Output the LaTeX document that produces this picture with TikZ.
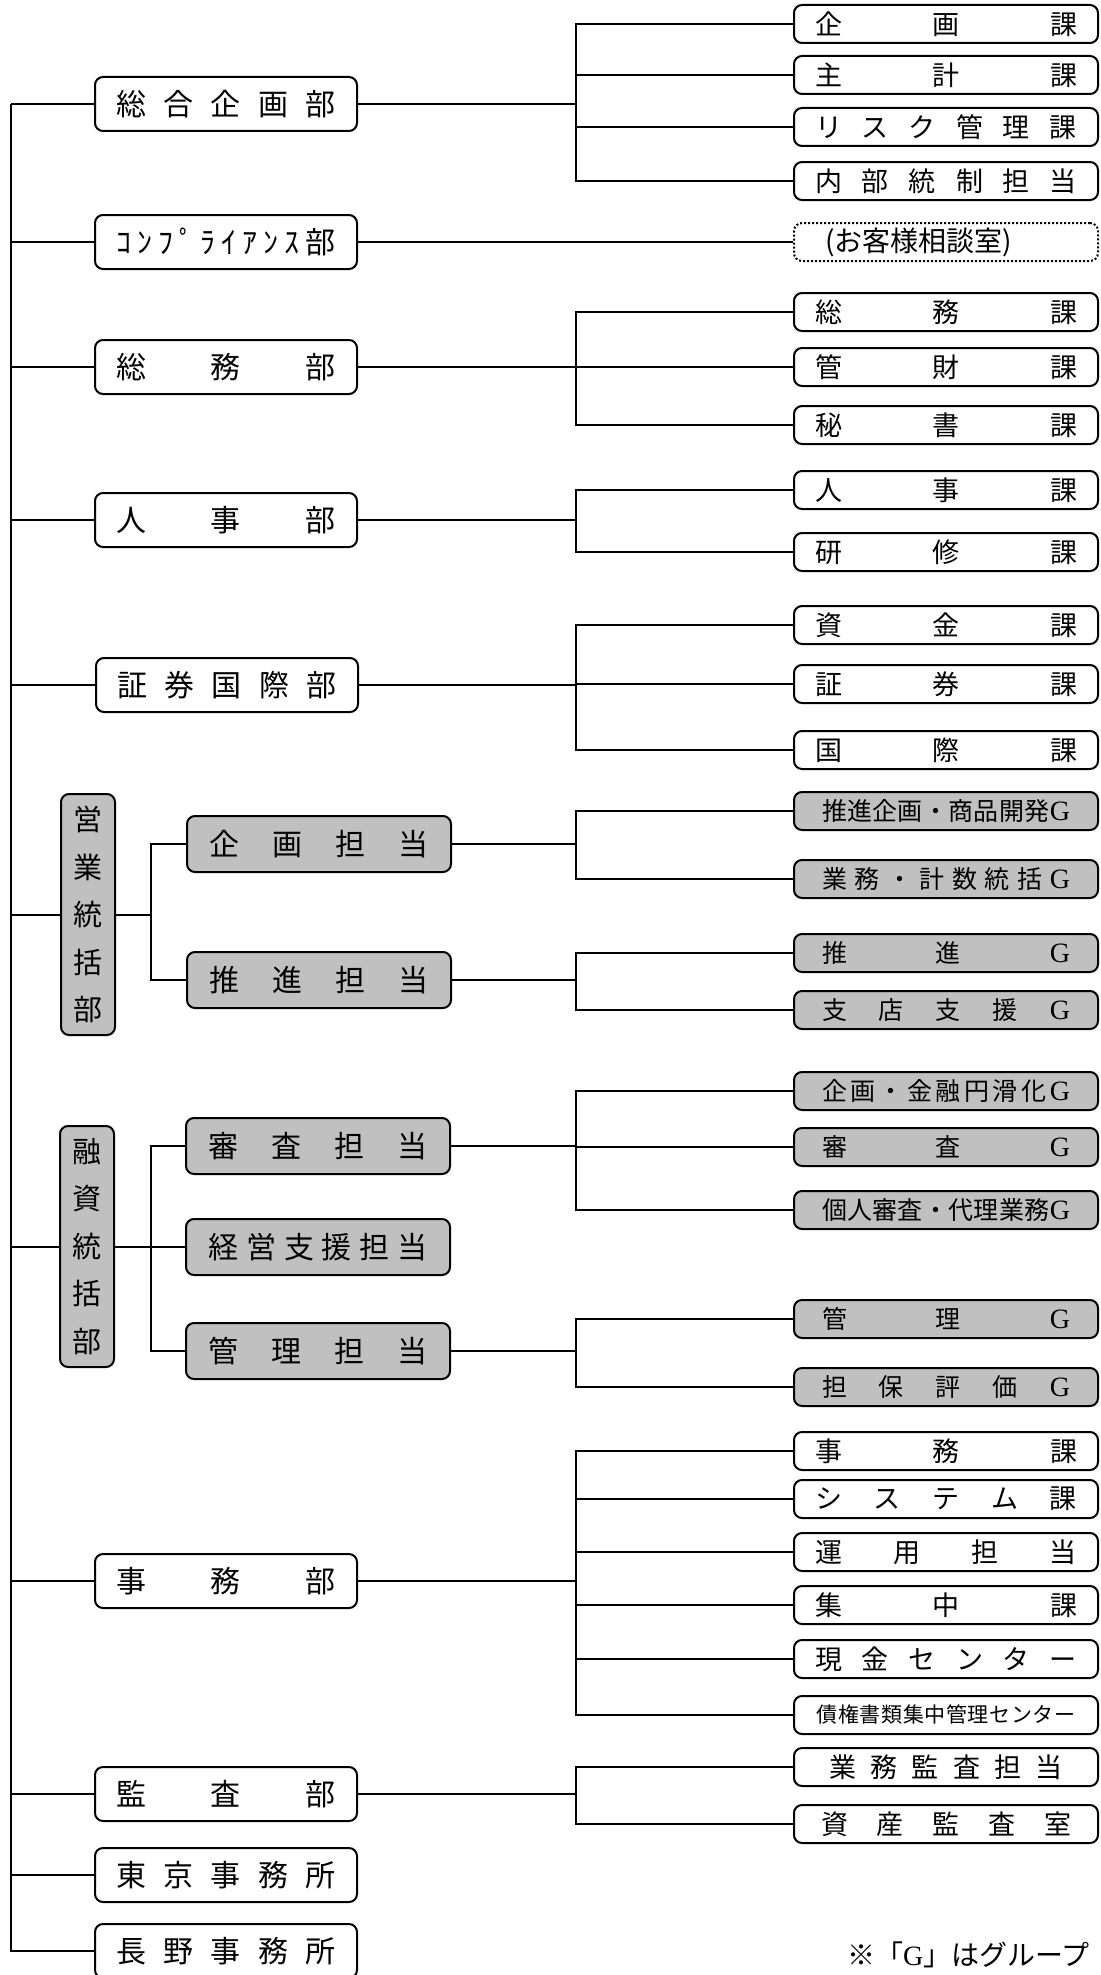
\documentclass[tikz,border=0pt]{standalone}
\usepackage{fontspec}
\setmainfont{Noto Sans CJK JP}
\newfontfamily\latinserif{Liberation Serif}
\newcommand{\gG}{{\latinserif\fontsize{14pt}{15pt}\selectfont G}}
\definecolor{boxgray}{RGB}{192,192,192}
% spread the characters of #2 evenly over a width of #1
\makeatletter
\newcommand{\spreadtext}[2]{\makebox[#1][s]{\spread@#2\relax}}
\def\spread@#1#2{#1\ifx\relax#2\else\hfill\expandafter\spread@\expandafter#2\fi}
\makeatother
\tikzset{
  conn/.style={line width=1pt},
  orgbox/.style={draw, line width=1pt, rounded corners=4pt, inner sep=0pt},
  deptbox/.style={orgbox, fill=white, minimum width=131pt, minimum height=27pt, font=\fontsize{15pt}{17pt}\selectfont},
  unitbox/.style={orgbox, fill=boxgray, minimum width=132pt, minimum height=28pt, font=\fontsize{15pt}{17pt}\selectfont},
  hqbox/.style={orgbox, fill=boxgray, minimum width=27pt, minimum height=120.5pt, align=center, font=\fontsize{14.5pt}{23.75pt}\selectfont},
  sectbox/.style={orgbox, fill=white, minimum width=152pt, minimum height=19pt, font=\fontsize{13.5pt}{15pt}\selectfont},
  grpbox/.style={sectbox, fill=boxgray, font=\fontsize{12.5pt}{15pt}\selectfont},
}
\begin{document}
\begin{tikzpicture}[x=0.5pt,y=-0.5pt]
\path[use as bounding box, fill=white] (0,0) rectangle (1101,1975);
% top-level departments
\node[deptbox] (sogo) at (226,104) {\spreadtext{110pt}{総合企画部}};
\node[deptbox] (comp) at (226,242) {\spreadtext{110pt}{ｺﾝﾌﾟﾗｲｱﾝｽ部}};
\node[deptbox] (somu) at (226,367) {\spreadtext{110pt}{総務部}};
\node[deptbox] (jinji) at (226,520) {\spreadtext{110pt}{人事部}};
\node[deptbox] (shoken) at (227,685) {\spreadtext{110pt}{証券国際部}};
\node[hqbox] (eigyo) at (88,914.5) {営\\業\\統\\括\\部};
\node[hqbox] (yushi) at (87,1246.5) {融\\資\\統\\括\\部};
\node[deptbox] (jimu) at (226,1581) {\spreadtext{110pt}{事務部}};
\node[deptbox] (kansa) at (226,1794) {\spreadtext{110pt}{監査部}};
\node[deptbox] (tokyo) at (226,1875) {\spreadtext{110pt}{東京事務所}};
\node[deptbox] (nagano) at (226,1951) {\spreadtext{110pt}{長野事務所}};
% sales and loan units
\node[unitbox] (ekikaku) at (319,844) {\spreadtext{109.5pt}{企画担当}};
\node[unitbox] (esuishin) at (319,980) {\spreadtext{109.5pt}{推進担当}};
\node[unitbox] (yshinsa) at (318,1146) {\spreadtext{109.5pt}{審査担当}};
\node[unitbox] (ykeiei) at (318,1247) {\spreadtext{109.5pt}{経営支援担当}};
\node[unitbox] (ykanri) at (318,1351) {\spreadtext{109.5pt}{管理担当}};
% sections
\node[sectbox] (kikaku) at (946,24) {\spreadtext{131pt}{企画課}};
\node[sectbox] (shukei) at (946,75) {\spreadtext{131pt}{主計課}};
\node[sectbox] (risk) at (946,127) {\spreadtext{131pt}{リスク管理課}};
\node[sectbox] (naibu) at (946,181) {\spreadtext{131pt}{内部統制担当}};
\node[sectbox, densely dotted, font=\fontsize{14pt}{16pt}\selectfont] (sodan) at (946,242) {\makebox[131pt][l]{\hspace{5pt}(お客様相談室)}};
\node[sectbox] (somuka) at (946,312) {\spreadtext{131pt}{総務課}};
\node[sectbox] (kanzai) at (946,367) {\spreadtext{131pt}{管財課}};
\node[sectbox] (hisho) at (946,425) {\spreadtext{131pt}{秘書課}};
\node[sectbox] (jinjika) at (946,490) {\spreadtext{131pt}{人事課}};
\node[sectbox] (kenshu) at (946,552) {\spreadtext{131pt}{研修課}};
\node[sectbox] (shikin) at (946,625) {\spreadtext{131pt}{資金課}};
\node[sectbox] (shokenka) at (946,684) {\spreadtext{131pt}{証券課}};
\node[sectbox] (kokusai) at (946,750) {\spreadtext{131pt}{国際課}};
% groups
\node[grpbox] (gsuishinkikaku) at (946,811) {\spreadtext{124pt}{推進企画・商品開発\gG}};
\node[grpbox] (ggyomu) at (946,879) {\spreadtext{124pt}{業務・計数統括\gG}};
\node[grpbox] (gsuishin) at (946,953) {\spreadtext{124pt}{推進\gG}};
\node[grpbox] (gshiten) at (946,1010) {\spreadtext{124pt}{支店支援\gG}};
\node[grpbox] (gkikaku) at (946,1091) {\spreadtext{124pt}{企画・金融円滑化\gG}};
\node[grpbox] (gshinsa) at (946,1147) {\spreadtext{124pt}{審査\gG}};
\node[grpbox] (gkojin) at (946,1210) {\spreadtext{124pt}{個人審査・代理業務\gG}};
\node[grpbox] (gkanri) at (946,1319) {\spreadtext{124pt}{管理\gG}};
\node[grpbox] (gtanpo) at (946,1387) {\spreadtext{124pt}{担保評価\gG}};
% operations and audit sections
\node[sectbox] (jimuka) at (946,1451) {\spreadtext{131pt}{事務課}};
\node[sectbox] (system) at (946,1499) {\spreadtext{131pt}{システム課}};
\node[sectbox] (unyo) at (946,1552) {\spreadtext{131pt}{運用担当}};
\node[sectbox] (shuchu) at (946,1605) {\spreadtext{131pt}{集中課}};
\node[sectbox] (genkin) at (946,1659) {\spreadtext{131pt}{現金センター}};
\node[sectbox, font=\fontsize{10.5pt}{12pt}\selectfont] (saiken) at (946,1715) {\spreadtext{129.5pt}{債権書類集中管理センター}};
\node[sectbox] (gyomukansa) at (946,1767) {\spreadtext{116.5pt}{業務監査担当}};
\node[sectbox] (shisan) at (946,1824) {\spreadtext{125pt}{資産監査室}};
\node[anchor=east, inner sep=0pt, font=\fontsize{14pt}{16pt}\selectfont] (note) at (1090,1955) {※「\gG」はグループ};
% connectors
\coordinate (tx) at (11,0);
\coordinate (mx) at (151,0);
\coordinate (bx) at (576,0);
\foreach \n in {sogo,comp,somu,jinji,shoken,eigyo,yushi,jimu,kansa,tokyo,nagano}
  \draw[conn] (sogo.west -| tx) |- (\n.west);
\foreach \c in {kikaku,shukei,risk,naibu}
  \draw[conn] (sogo.east) -- (sogo.east -| bx) |- (\c.west);
\draw[conn] (comp.east) -- (sodan.west);
\foreach \c in {somuka,kanzai,hisho}
  \draw[conn] (somu.east) -- (somu.east -| bx) |- (\c.west);
\foreach \c in {jinjika,kenshu}
  \draw[conn] (jinji.east) -- (jinji.east -| bx) |- (\c.west);
\foreach \c in {shikin,shokenka,kokusai}
  \draw[conn] (shoken.east) -- (shoken.east -| bx) |- (\c.west);
\foreach \c in {ekikaku,esuishin}
  \draw[conn] (eigyo.east) -- (eigyo.east -| mx) |- (\c.west);
\foreach \c in {gsuishinkikaku,ggyomu}
  \draw[conn] (ekikaku.east) -- (ekikaku.east -| bx) |- (\c.west);
\foreach \c in {gsuishin,gshiten}
  \draw[conn] (esuishin.east) -- (esuishin.east -| bx) |- (\c.west);
\foreach \c in {yshinsa,ykeiei,ykanri}
  \draw[conn] (yushi.east) -- (yushi.east -| mx) |- (\c.west);
\foreach \c in {gkikaku,gshinsa,gkojin}
  \draw[conn] (yshinsa.east) -- (yshinsa.east -| bx) |- (\c.west);
\foreach \c in {gkanri,gtanpo}
  \draw[conn] (ykanri.east) -- (ykanri.east -| bx) |- (\c.west);
\foreach \c in {jimuka,system,unyo,shuchu,genkin,saiken}
  \draw[conn] (jimu.east) -- (jimu.east -| bx) |- (\c.west);
\foreach \c in {gyomukansa,shisan}
  \draw[conn] (kansa.east) -- (kansa.east -| bx) |- (\c.west);
\end{tikzpicture}
\end{document}
